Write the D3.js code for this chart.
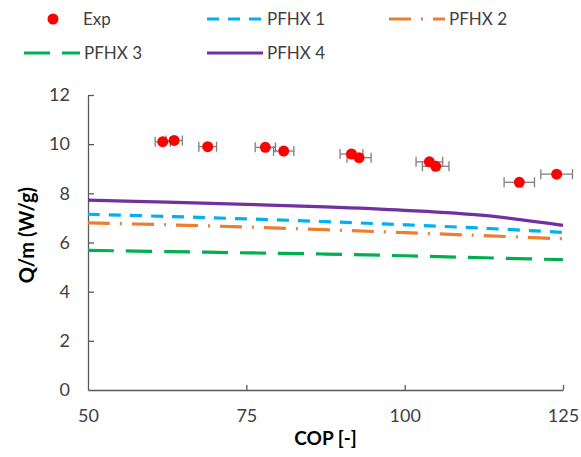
<!DOCTYPE html>
<html>
<head>
<meta charset="utf-8">
<script src="https://cdn.jsdelivr.net/npm/d3@7"></script>
<style>
  body { margin: 0; background: #fff; }
  svg { font-family: Lato, "Open Sans", sans-serif; }
</style>
</head>
<body>
<svg id="chart"></svg>
<script>
// experimental points
const expCop = [61.8, 63.6, 68.9, 78.0, 80.9, 91.6, 92.8, 103.9, 104.9, 118.1, 124.0];
const expQ = [10.1, 10.15, 9.9, 9.87, 9.72, 9.6, 9.45, 9.28, 9.1, 8.45, 8.78];
const expErr = [1.2, 1.3, 1.4, 1.6, 1.6, 1.8, 1.9, 2.1, 2.1, 2.4, 2.5];

// model curves
const modelCop = [50, 62.5, 75, 87.5, 100, 112.5, 125];
const pfhx1 = [7.15, 7.06, 6.96, 6.85, 6.72, 6.58, 6.41];
const pfhx2 = [6.80, 6.72, 6.63, 6.52, 6.40, 6.28, 6.15];
const pfhx3 = [5.68, 5.63, 5.58, 5.53, 5.46, 5.38, 5.30];
const pfhx4 = [7.72, 7.64, 7.55, 7.45, 7.31, 7.10, 6.70];

const xTicks = [50, 75, 100, 125];
const yTicks = [0, 2, 4, 6, 8, 10, 12];

const w = 581;
const h = 457;
const margin = { top: 95, right: 18, bottom: 67, left: 88 };

const svg = d3.select('#chart').attr('width', w).attr('height', h);

const x = d3.scaleLinear().domain([50, 125]).range([margin.left, w - margin.right]);
const y = d3.scaleLinear().domain([0, 12]).range([h - margin.bottom, margin.top]);

const series = [
  { name: 'PFHX 1', values: pfhx1, color: '#00B0F0', dash: '12,9' },
  { name: 'PFHX 2', values: pfhx2, color: '#ED7D31', dash: '22,10,2,10' },
  { name: 'PFHX 3', values: pfhx3, color: '#00B050', dash: '26,12' },
  { name: 'PFHX 4', values: pfhx4, color: '#7030A0', dash: null }
];

// axes
const axisColor = '#595959';
const gx = svg.append('g')
  .attr('transform', `translate(0, ${y(0)})`)
  .call(d3.axisBottom(x).tickValues(xTicks).tickSizeInner(-5).tickSizeOuter(0).tickPadding(19));
const gy = svg.append('g')
  .attr('transform', `translate(${x(50)}, 0)`)
  .call(d3.axisLeft(y).tickValues(yTicks).tickSizeInner(-6).tickSizeOuter(0).tickPadding(18));

[gx, gy].forEach(g => {
  g.select('.domain').attr('stroke', axisColor).attr('stroke-width', 1.3);
  g.selectAll('.tick line').attr('stroke', axisColor).attr('stroke-width', 1.3);
  g.selectAll('.tick text').attr('fill', '#404040').style('font-size', '18px')
    .style('font-family', 'Lato, "Open Sans", sans-serif');
});
gx.selectAll('.tick').filter(d => d === 50).select('line').remove();
gy.selectAll('.tick').filter(d => d === 0).select('line').remove();

// model lines
const line = d3.line()
  .x((d, i) => x(modelCop[i]))
  .y(d => y(d))
  .curve(d3.curveCatmullRom);

series.forEach(s => {
  svg.append('path')
    .datum(s.values)
    .attr('d', line)
    .attr('fill', 'none')
    .attr('stroke', s.color)
    .attr('stroke-width', 3.2)
    .attr('stroke-dasharray', s.dash);
});

// error bars
const errG = svg.append('g').attr('stroke', '#7F7F7F').attr('stroke-width', 1.3);
expCop.forEach((c, i) => {
  const x0 = x(c - expErr[i]);
  const x1 = x(c + expErr[i]);
  const yy = y(expQ[i]);
  errG.append('line').attr('x1', x0).attr('x2', x1).attr('y1', yy).attr('y2', yy);
  errG.append('line').attr('x1', x0).attr('x2', x0).attr('y1', yy - 5).attr('y2', yy + 5);
  errG.append('line').attr('x1', x1).attr('x2', x1).attr('y1', yy - 5).attr('y2', yy + 5);
});

// experimental markers
svg.append('g').selectAll('circle')
  .data(expCop)
  .enter()
  .append('circle')
  .attr('cx', d => x(d))
  .attr('cy', (d, i) => y(expQ[i]))
  .attr('r', 5.5)
  .attr('fill', '#FF0000');

// axis titles
svg.append('text')
  .attr('x', (x(50) + x(125)) / 2)
  .attr('y', 445)
  .attr('text-anchor', 'middle')
  .style('font-size', '19px')
  .style('font-weight', 'bold')
  .text('COP [-]');

svg.append('text')
  .attr('transform', `translate(34, ${y(6.3)}) rotate(-90)`)
  .attr('text-anchor', 'middle')
  .style('font-size', '20px')
  .style('font-weight', 'bold')
  .text('Q/m (W/g)');

// legend
const legend = svg.append('g').style('font-size', '17px').attr('fill', '#404040');
legend.append('circle').attr('cx', 53).attr('cy', 19).attr('r', 5.5).attr('fill', '#FF0000');
legend.append('text').attr('x', 83).attr('y', 25).text('Exp');

const legPos = [
  { x: 207, y: 19 },
  { x: 389, y: 19 },
  { x: 24, y: 53 },
  { x: 207, y: 53 }
];
series.forEach((s, i) => {
  const p = legPos[i];
  legend.append('line')
    .attr('x1', p.x).attr('x2', p.x + 56)
    .attr('y1', p.y).attr('y2', p.y)
    .attr('stroke', s.color)
    .attr('stroke-width', 3.2)
    .attr('stroke-dasharray', s.dash);
  legend.append('text').attr('x', p.x + 60).attr('y', p.y + 6).text(s.name);
});
</script>
</body>
</html>
